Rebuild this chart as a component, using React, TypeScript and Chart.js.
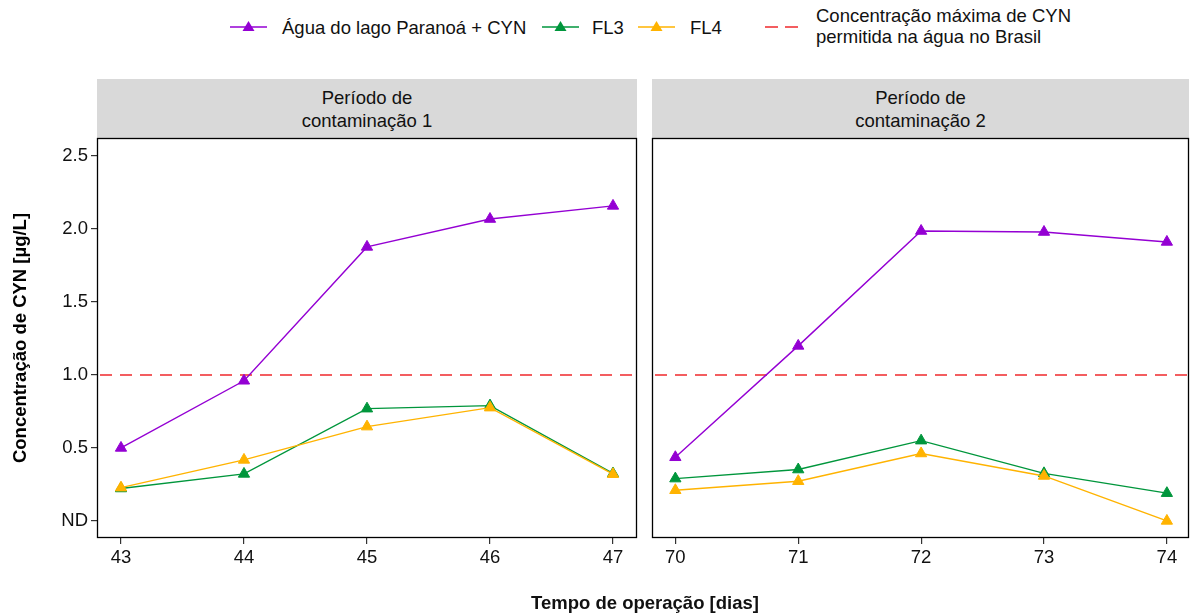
import React, { useEffect, useRef } from "react";
import { Chart, registerables } from "chart.js";
Chart.register(...registerables);

const days1 = [43, 44, 45, 46, 47];
const days2 = [70, 71, 72, 73, 74];
const lake1 = [0.5, 0.96, 1.877, 2.068, 2.158];
const fl3_1 = [0.222, 0.322, 0.769, 0.79, 0.325];
const fl4_1 = [0.228, 0.418, 0.646, 0.776, 0.32];
const lake2 = [0.436, 1.199, 1.986, 1.979, 1.911];
const fl3_2 = [0.29, 0.352, 0.55, 0.326, 0.19];
const fl4_2 = [0.21, 0.272, 0.462, 0.308, 0.0];
const limitValue = 1.0;
const yTicks = [0, 0.5, 1, 1.5, 2, 2.5];
const yLabels = ["ND", "0.5", "1.0", "1.5", "2.0", "2.5"];
const yMin = -0.117;
const yMax = 2.623;
const xRange1 = [42.805, 47.195];
const xRange2 = [69.81, 74.18];
const stripLabels = [["Período de", "contaminação 1"], ["Período de", "contaminação 2"]];
const seriesNames = ["Água do lago Paranoá + CYN", "FL3", "FL4"];
const limitLabel = ["Concentração máxima de CYN", "permitida na água no Brasil"];
const xTitle = "Tempo de operação [dias]";
const yTitle = "Concentração de CYN [µg/L]";

const PURPLE = "#9400D3";
const GREEN = "#00963C";
const ORANGE = "#FFB300";
const RED = "#F0282D";
const FONT = "'Liberation Sans', Arial, sans-serif";
const FS = 18.5;

const borderPlugin = {
  id: "panelBorder",
  afterDraw(chart: any) {
    const { ctx, chartArea: a } = chart;
    ctx.save();
    ctx.strokeStyle = "#000";
    ctx.lineWidth = 1.3;
    ctx.strokeRect(a.left + 0.5, a.top + 0.5, a.right - a.left - 1, a.bottom - a.top - 1);
    ctx.restore();
  },
};

function Panel(props: { days: number[]; lake: number[]; fl3: number[]; fl4: number[]; xRange: number[]; showY: boolean; style: any }) {
  const ref = useRef<HTMLCanvasElement>(null);
  useEffect(() => {
    const { days, lake, fl3, fl4, xRange, showY } = props;
    const pts = (vals: number[]) => days.map((d, i) => ({ x: d, y: vals[i] }));
    const mk = (label: string, vals: number[], color: string) => ({
      label,
      data: pts(vals),
      borderColor: color,
      backgroundColor: color,
      borderWidth: 1.4,
      pointStyle: "triangle",
      pointRadius: 6.5,
      pointBorderWidth: 1,
      pointBorderColor: color,
      pointBackgroundColor: color,
      tension: 0,
    });
    const chart = new Chart(ref.current!, {
      type: "line",
      data: {
        datasets: [
          mk(seriesNames[0], lake, PURPLE),
          mk(seriesNames[2], fl4, ORANGE),
          mk(seriesNames[1], fl3, GREEN),
          {
            label: "limit",
            data: [{ x: xRange[0], y: limitValue }, { x: xRange[1], y: limitValue }],
            borderColor: RED,
            borderWidth: 1.4,
            borderDash: [12, 8],
            borderDashOffset: -3,
            pointRadius: 0,
          } as any,
        ],
      },
      options: {
        animation: false,
        responsive: false,
        maintainAspectRatio: false,
        layout: {
          autoPadding: false,
          padding: showY ? { top: 10, right: 3, left: 0, bottom: 0 } : { top: 10, right: 1, left: 7, bottom: 0 },
        },
        plugins: { legend: { display: false }, tooltip: { enabled: false } },
        scales: {
          x: {
            type: "linear",
            min: xRange[0],
            max: xRange[1],
            afterBuildTicks: (s: any) => {
              s.ticks = days.map((v) => ({ value: v }));
            },
            afterFit: (s: any) => {
              s.height = 60;
              s.paddingLeft = 0;
              s.paddingRight = 0;
            },
            grid: { drawOnChartArea: false, drawTicks: true, tickLength: 6, color: "#333", lineWidth: 1.2 },
            border: { display: false },
            ticks: { color: "#111", font: { family: FONT, size: FS }, padding: 3, maxRotation: 0, autoSkip: false, callback: (v: any) => String(v) },
          },
          y: {
            display: showY,
            type: "linear",
            min: yMin,
            max: yMax,
            afterBuildTicks: (s: any) => {
              s.ticks = yTicks.map((v) => ({ value: v }));
            },
            afterFit: (s: any) => {
              s.width = showY ? 97 : 0;
              s.paddingTop = 0;
              s.paddingBottom = 0;
            },
            grid: { drawOnChartArea: false, drawTicks: true, tickLength: 6, color: "#333", lineWidth: 1.2 },
            border: { display: false },
            ticks: {
              color: "#111",
              font: { family: FONT, size: FS },
              padding: 3,
              callback: (v: any) => {
                const i = yTicks.indexOf(Number(v));
                return i >= 0 ? yLabels[i] : "";
              },
            },
            title: { display: true, text: yTitle, color: "#000", font: { family: FONT, size: FS, weight: "bold" }, padding: { top: 10, bottom: 0 } },
          },
        },
      },
      plugins: [borderPlugin],
    } as any);
    return () => chart.destroy();
  }, []);
  return <canvas ref={ref} width={props.style.width} height={props.style.height} style={{ position: "absolute", ...props.style }} />;
}

function Strip({ left, width, lines }: { left: number; width: number; lines: string[] }) {
  return (
    <div
      style={{
        position: "absolute",
        left,
        top: 79,
        width,
        height: 59,
        background: "#D9D9D9",
        display: "flex",
        flexDirection: "column",
        justifyContent: "center",
        alignItems: "center",
        fontFamily: FONT,
        fontSize: FS,
        lineHeight: "23px",
        color: "#111",
      }}
    >
      {lines.map((l, i) => (
        <div key={i}>{l}</div>
      ))}
    </div>
  );
}

function Key({ left, color, dashed }: { left: number; color: string; dashed?: boolean }) {
  return (
    <svg style={{ position: "absolute", left, top: 17 }} width={38} height={20}>
      {dashed ? (
        <line x1={3} y1={10} x2={36} y2={10} stroke={RED} strokeWidth={1.5} strokeDasharray="13 7" />
      ) : (
        <>
          <line x1={0} y1={10} x2={37} y2={10} stroke={color} strokeWidth={1.4} />
          <polygon points="18.5,4 24.5,14 12.5,14" fill={color} />
        </>
      )}
    </svg>
  );
}

const textStyle: any = { position: "absolute", fontFamily: FONT, fontSize: FS, color: "#111", whiteSpace: "nowrap" };

export default function App() {
  return (
    <div style={{ position: "fixed", left: 0, top: 0, width: 1190, height: 614, background: "#fff", overflow: "hidden" }}>
      <Key left={230} color={PURPLE} />
      <div style={{ ...textStyle, left: 282, top: 17 }}>{seriesNames[0]}</div>
      <Key left={542} color={GREEN} />
      <div style={{ ...textStyle, left: 592, top: 17 }}>{seriesNames[1]}</div>
      <Key left={638} color={ORANGE} />
      <div style={{ ...textStyle, left: 690, top: 17 }}>{seriesNames[2]}</div>
      <Key left={762} color={RED} dashed />
      <div style={{ ...textStyle, left: 816, top: 5, lineHeight: "21px" }}>
        <div>{limitLabel[0]}</div>
        <div>{limitLabel[1]}</div>
      </div>
      <Strip left={97} width={540} lines={stripLabels[0]} />
      <Strip left={652} width={537} lines={stripLabels[1]} />
      <Panel days={days1} lake={lake1} fl3={fl3_1} fl4={fl4_1} xRange={xRange1} showY={true} style={{ left: 0, top: 128, width: 640, height: 470 }} />
      <Panel days={days2} lake={lake2} fl3={fl3_2} fl4={fl4_2} xRange={xRange2} showY={false} style={{ left: 645, top: 128, width: 545, height: 470 }} />
      <div style={{ ...textStyle, left: 0, width: 1190, textAlign: "center", top: 592, fontWeight: "bold", paddingLeft: 100, boxSizing: "border-box" }}>{xTitle}</div>
    </div>
  );
}
